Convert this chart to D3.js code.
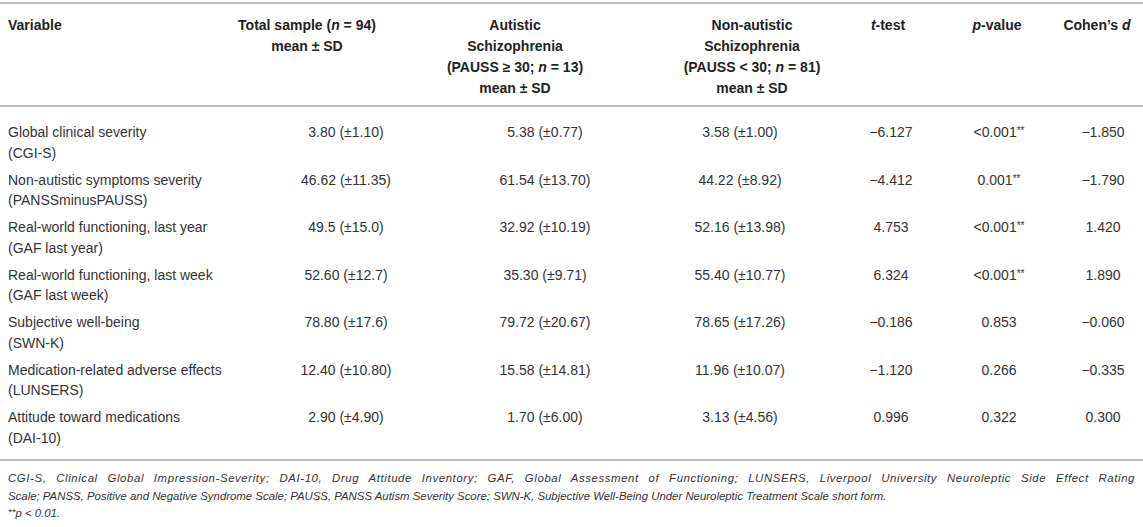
<!DOCTYPE html>
<meta charset="utf-8">
<style>
body { margin: 0; background: #fff; }
svg { display: block; font-family: "Liberation Sans", Arial, Helvetica, sans-serif; }
.rule { stroke: #bdbdbd; stroke-width: 2px; }
.head { font-size: 14px; font-weight: bold; fill: #222; }
.cell { font-size: 14px; fill: #333; }
.note { font-size: 11.4px; font-style: italic; fill: #333; }
</style>
<body>
<script src="https://d3js.org/d3.v7.min.js"></script>
<script>

var width = 1143,
    height = 527;

// table content
var variables = ["Global clinical severity", "Non-autistic symptoms severity", "Real-world functioning, last year",
  "Real-world functioning, last week", "Subjective well-being", "Medication-related adverse effects",
  "Attitude toward medications"];
var scales = ["(CGI-S)", "(PANSSminusPAUSS)", "(GAF last year)", "(GAF last week)", "(SWN-K)", "(LUNSERS)", "(DAI-10)"];
var totalSample = ["3.80 (±1.10)", "46.62 (±11.35)", "49.5 (±15.0)", "52.60 (±12.7)", "78.80 (±17.6)", "12.40 (±10.80)", "2.90 (±4.90)"];
var autistic = ["5.38 (±0.77)", "61.54 (±13.70)", "32.92 (±10.19)", "35.30 (±9.71)", "79.72 (±20.67)", "15.58 (±14.81)", "1.70 (±6.00)"];
var nonAutistic = ["3.58 (±1.00)", "44.22 (±8.92)", "52.16 (±13.98)", "55.40 (±10.77)", "78.65 (±17.26)", "11.96 (±10.07)", "3.13 (±4.56)"];
var tTest = ["−6.127", "−4.412", "4.753", "6.324", "−0.186", "−1.120", "0.996"];
var pValue = ["<0.001", "0.001", "<0.001", "<0.001", "0.853", "0.266", "0.322"];
var pStars = ["**", "**", "**", "**", "", "", ""];
var cohensD = ["−1.850", "−1.790", "1.420", "1.890", "−0.060", "−0.335", "0.300"];

// header lines, each an array of [text, italic] pieces
var headers = [
  {col: "var", lines: [[["Variable", false]]]},
  {col: "total", lines: [[["Total sample (", false], ["n", true], [" = 94)", false]], [["mean ± SD", false]]]},
  {col: "aut", lines: [[["Autistic", false]], [["Schizophrenia", false]],
    [["(PAUSS ≥ 30; ", false], ["n", true], [" = 13)", false]], [["mean ± SD", false]]]},
  {col: "non", lines: [[["Non-autistic", false]], [["Schizophrenia", false]],
    [["(PAUSS < 30; ", false], ["n", true], [" = 81)", false]], [["mean ± SD", false]]]},
  {col: "t", lines: [[["t", true], ["-test", false]]]},
  {col: "p", lines: [[["p", true], ["-value", false]]]},
  {col: "d", lines: [[["Cohen’s ", false], ["d", true]]]}
];

var notes = [
  "CGI-S, Clinical Global Impression-Severity; DAI-10, Drug Attitude Inventory; GAF, Global Assessment of Functioning; LUNSERS, Liverpool University Neuroleptic Side Effect Rating",
  "Scale; PANSS, Positive and Negative Syndrome Scale; PAUSS, PANSS Autism Severity Score; SWN-K, Subjective Well-Being Under Neuroleptic Treatment Scale short form."
];

// layout
var headX = {var: 8, total: 307, aut: 515, non: 752, t: 888, p: 997, d: 1097};
var cellX = {total: 346, aut: 545, non: 740, t: 891, p: 999, d: 1103};

var row = d3.scaleLinear()
    .domain([0, variables.length - 1])
    .range([137, 422]);

var headLine = d3.scaleLinear().domain([0, 3]).range([30, 93]);

var svg = d3.select("body").append("svg")
    .attr("width", width)
    .attr("height", height);

svg.selectAll("line.rule")
    .data([3, 106, 460])
    .enter().append("line")
    .attr("class", "rule")
    .attr("x1", 0)
    .attr("x2", width)
    .attr("y1", function(d) { return d; })
    .attr("y2", function(d) { return d; });

// header
headers.forEach(function(h) {
  h.lines.forEach(function(pieces, i) {
    var t = svg.append("text")
        .attr("class", "head")
        .attr("x", headX[h.col])
        .attr("y", headLine(i))
        .attr("text-anchor", h.col == "var" ? "start" : "middle");
    pieces.forEach(function(p) {
      t.append("tspan")
        .style("font-style", p[1] ? "italic" : null)
        .text(p[0]);
    });
  });
});

// body rows
var rows = svg.selectAll("g.row")
    .data(variables)
    .enter().append("g")
    .attr("class", "row")
    .attr("transform", function(d, i) { return "translate(0," + row(i) + ")"; });

rows.append("text")
    .attr("class", "cell")
    .attr("x", headX["var"])
    .text(function(d) { return d; });

rows.append("text")
    .attr("class", "cell")
    .attr("x", headX["var"])
    .attr("y", 20.5)
    .text(function(d, i) { return scales[i]; });

var cols = [["total", totalSample], ["aut", autistic], ["non", nonAutistic], ["t", tTest], ["d", cohensD]];
cols.forEach(function(c) {
  rows.append("text")
    .attr("class", "cell")
    .attr("x", cellX[c[0]])
    .attr("text-anchor", "middle")
    .text(function(d, i) { return c[1][i]; });
});

var pText = rows.append("text")
    .attr("class", "cell")
    .attr("x", cellX.p)
    .attr("text-anchor", "middle");
pText.append("tspan").text(function(d, i) { return pValue[i]; });
pText.append("tspan")
    .attr("dy", -3)
    .style("font-size", "10px")
    .text(function(d, i) { return pStars[i]; });

// footnotes (first line justified to full width)
svg.selectAll("text.note")
    .data(notes)
    .enter().append("text")
    .attr("class", "note")
    .attr("x", 8)
    .attr("y", function(d, i) { return 482 + i * 18; })
    .text(function(d) { return d; })
    .each(function(d, i) {
      if (i > 0) return;
      var sel = d3.select(this).style("letter-spacing", "0.6px");
      var natural = this.getComputedTextLength();
      var gaps = d.split(" ").length - 1;
      var extra = (width - 16 - natural) / gaps;
      if (extra > 0) sel.style("word-spacing", extra + "px");
    });

var sig = svg.append("text")
    .attr("class", "note")
    .attr("x", 8)
    .attr("y", 517);
sig.append("tspan").attr("dy", -2).style("font-size", "9.5px").text("**");
sig.append("tspan").attr("dy", 2).text("p < 0.01.");

</script>
</body>
